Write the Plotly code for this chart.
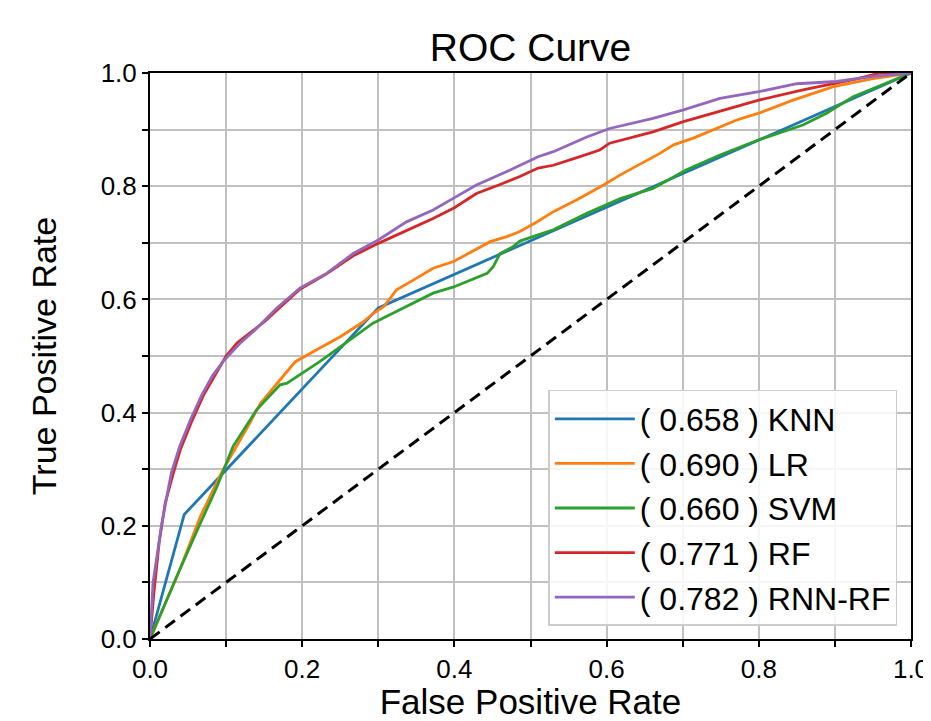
import plotly.graph_objects as go

# ---- data ----
knn_fpr = [0.0, 0.045, 0.30, 0.90, 1.0]
knn_tpr = [0.0, 0.22, 0.585, 0.94, 1.0]

lr_fpr = [0.0, 0.039, 0.066, 0.096, 0.131, 0.145, 0.171, 0.191, 0.219, 0.25, 0.28, 0.293,
          0.307, 0.324, 0.346, 0.372, 0.399, 0.447, 0.469, 0.486, 0.51, 0.53, 0.561, 0.596,
          0.618, 0.67, 0.688, 0.714, 0.771, 0.80, 0.845, 0.898, 0.95, 1.0]
lr_tpr = [0.0, 0.122, 0.216, 0.299, 0.381, 0.416, 0.458, 0.49, 0.511, 0.534, 0.56, 0.575,
          0.587, 0.617, 0.634, 0.655, 0.667, 0.702, 0.711, 0.72, 0.738, 0.755, 0.776, 0.802,
          0.82, 0.858, 0.873, 0.885, 0.917, 0.929, 0.952, 0.976, 0.99, 1.0]

svm_fpr = [0.0, 0.035, 0.066, 0.088, 0.109, 0.14, 0.171, 0.18, 0.206, 0.223, 0.25, 0.293,
           0.302, 0.337, 0.372, 0.399, 0.443, 0.451, 0.46, 0.477, 0.486, 0.51, 0.53, 0.574,
           0.618, 0.661, 0.705, 0.749, 0.80, 0.858, 0.889, 0.924, 0.968, 1.0]
svm_tpr = [0.0, 0.11, 0.204, 0.269, 0.34, 0.405, 0.449, 0.452, 0.475, 0.49, 0.516, 0.558,
           0.564, 0.587, 0.611, 0.622, 0.646, 0.658, 0.681, 0.693, 0.703, 0.714, 0.723, 0.752,
           0.778, 0.796, 0.829, 0.855, 0.882, 0.908, 0.929, 0.958, 0.982, 1.0]

rf_fpr = [0.0, 0.005, 0.012, 0.02, 0.03, 0.04, 0.055, 0.07, 0.085, 0.1, 0.115, 0.13, 0.15,
          0.166, 0.197, 0.232, 0.267, 0.30, 0.337, 0.372, 0.40, 0.429, 0.46, 0.486, 0.51,
          0.53, 0.56, 0.591, 0.604, 0.63, 0.661, 0.701, 0.749, 0.80, 0.858, 0.902, 0.93,
          0.959, 1.0]
rf_tpr = [0.0, 0.08, 0.17, 0.24, 0.29, 0.335, 0.385, 0.43, 0.465, 0.5, 0.524, 0.54, 0.56,
          0.58, 0.618, 0.645, 0.677, 0.699, 0.722, 0.743, 0.762, 0.787, 0.803, 0.817, 0.832,
          0.837, 0.85, 0.864, 0.876, 0.885, 0.896, 0.914, 0.932, 0.952, 0.97, 0.982, 0.99,
          1.0, 1.0]

rnnrf_fpr = [0.0, 0.004, 0.009, 0.015, 0.022, 0.028, 0.039, 0.053, 0.068, 0.082, 0.096,
             0.118, 0.138, 0.166, 0.197, 0.232, 0.267, 0.30, 0.337, 0.372, 0.399, 0.429,
             0.469, 0.51, 0.53, 0.574, 0.604, 0.661, 0.701, 0.749, 0.80, 0.85, 0.902, 0.95, 1.0]
rnnrf_tpr = [0.0, 0.1, 0.145, 0.2, 0.251, 0.293, 0.34, 0.387, 0.431, 0.465, 0.49,
             0.522, 0.546, 0.584, 0.62, 0.646, 0.681, 0.705, 0.737, 0.758, 0.779, 0.802,
             0.826, 0.852, 0.861, 0.887, 0.902, 0.92, 0.935, 0.955, 0.967, 0.981, 0.985, 0.994, 1.0]

names = ["KNN", "LR", "SVM", "RF", "RNN-RF"]
aucs = [0.658, 0.690, 0.660, 0.771, 0.782]
colors = ["#1f77b4", "#ff7f0e", "#2ca02c", "#d62728", "#9467bd"]
curves = [(knn_fpr, knn_tpr), (lr_fpr, lr_tpr), (svm_fpr, svm_tpr),
          (rf_fpr, rf_tpr), (rnnrf_fpr, rnnrf_tpr)]
diag = [0.0, 1.0]
ticks = [0.0, 0.2, 0.4, 0.6, 0.8, 1.0]

FONT = "Liberation Sans, Arial, Helvetica, sans-serif"

fig = go.Figure()
for (fx, ty), nm, a, c in zip(curves, names, aucs, colors):
    fig.add_trace(go.Scatter(
        x=fx, y=ty, mode="lines", name=f"( {a:.3f} ) {nm}",
        legendgroup=nm, line=dict(color=c, width=2.8)))
fig.add_trace(go.Scatter(x=diag, y=diag, mode="lines", showlegend=False,
                         line=dict(color="black", width=3, dash="12px,7px")))

axis_common = dict(
    range=[0, 1], tickvals=ticks, ticktext=[f"{t:.1f}" for t in ticks],
    automargin=False,
    showline=True, linecolor="black", linewidth=2, mirror=True,
    ticks="outside", ticklen=6, tickwidth=1.5, tickcolor="black",
    showgrid=True, gridcolor="#c0c0c0", gridwidth=1.5, zeroline=False,
    tickfont=dict(size=26, color="black", family=FONT),
    minor=dict(dtick=0.1, tick0=0, showgrid=True, gridcolor="#c0c0c0", gridwidth=1.5,
               ticks="outside", ticklen=6, tickwidth=1.5, tickcolor="black"),
)

# the page body adds ~8px offset, so the figure is sized to fit the window
fig.update_layout(
    width=923, height=713,
    margin=dict(l=142, r=20, t=65, b=82),
    paper_bgcolor="white", plot_bgcolor="white",
    font=dict(family=FONT, color="black"),
    title=dict(text="ROC Curve", x=0.5, xref="paper", y=1 - 39 / 713, yref="container",
               xanchor="center", yanchor="middle", font=dict(size=39, family=FONT)),
    xaxis=dict(axis_common, title=dict(text="False Positive Rate",
                                       font=dict(size=35, family=FONT), standoff=8)),
    yaxis=dict(axis_common, title=dict(text="True Positive Rate",
                                       font=dict(size=34, family=FONT), standoff=34)),
    legend=dict(x=0.982, xanchor="right", y=0.023, yanchor="bottom",
                bgcolor="rgba(255,255,255,0.85)", bordercolor="#cccccc", borderwidth=1.5,
                font=dict(size=32, family=FONT), tracegroupgap=0, itemwidth=80),
    showlegend=True,
)

fig.write_html("out.html")
